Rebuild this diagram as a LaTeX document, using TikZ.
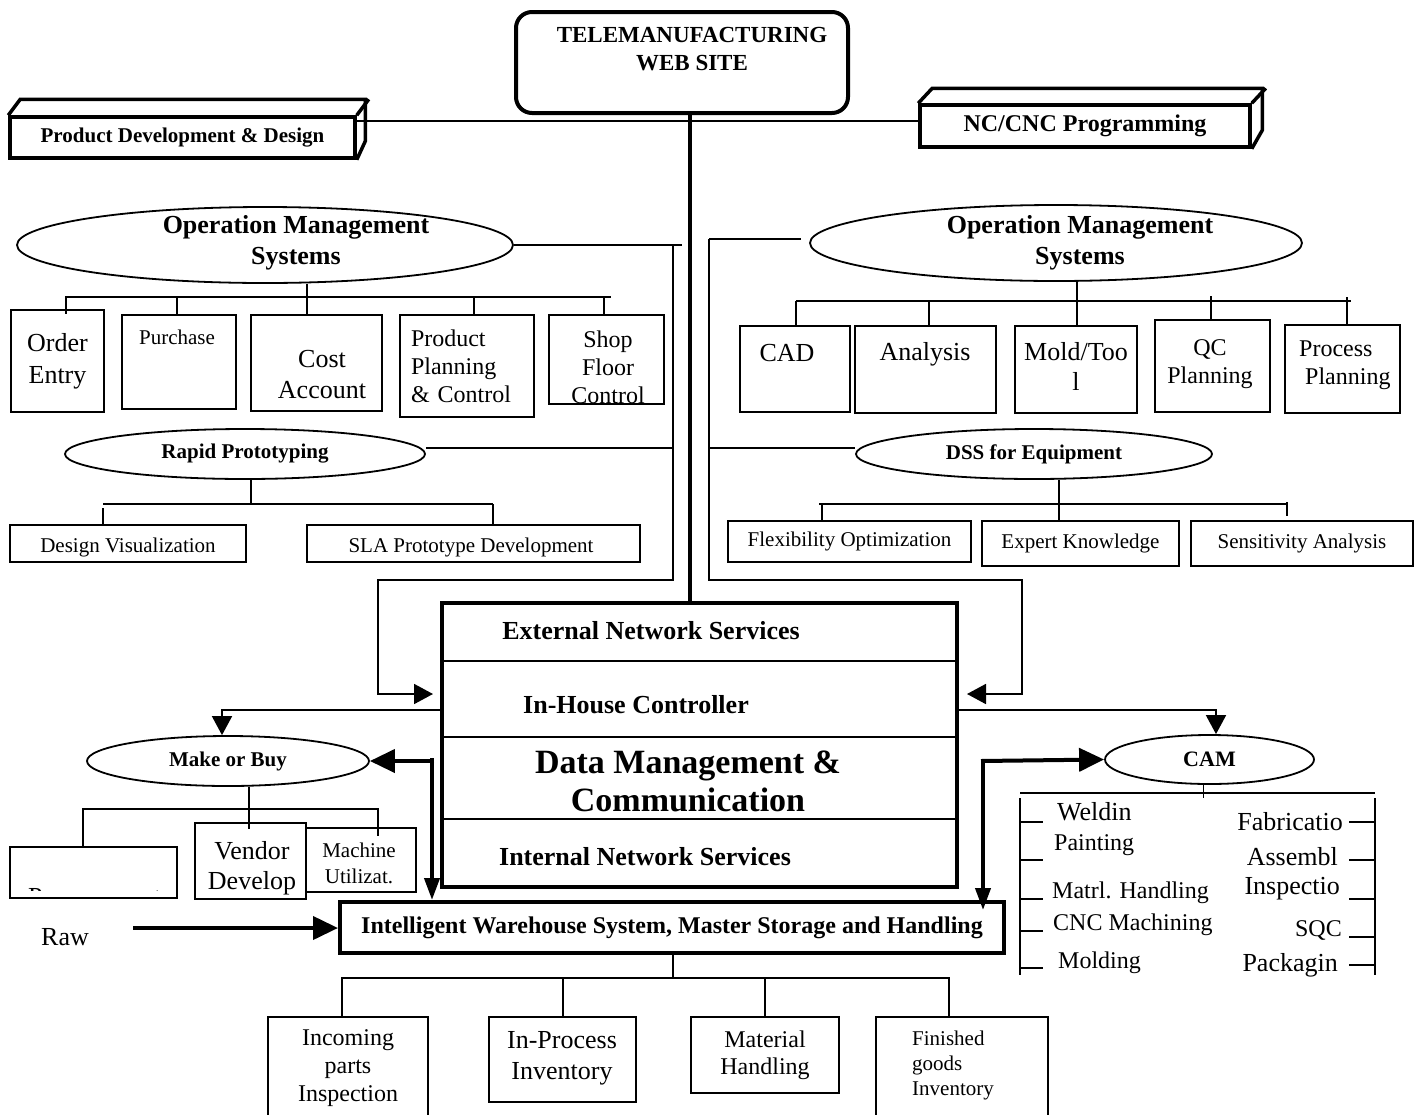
\documentclass[tikz,border=0pt]{standalone}
\usepackage{fontspec}
\setmainfont{Liberation Serif}
\usetikzlibrary{shapes.geometric,arrows.meta}
\newcommand\fsz[2]{\fontsize{#1}{#2}\selectfont}
\tikzset{
  ln/.style={line width=1.8pt},
  bx/.style={draw, line width=1.8pt, inner sep=0pt, rectangle},
  tbx/.style={draw, line width=4pt, inner sep=0pt, rectangle},
  el/.style={draw, ellipse, line width=1.8pt, inner sep=0pt},
  tx/.style={inner sep=0pt, align=center},
  arr/.style={-{Triangle[length=19pt,width=20pt]}},
  tarrh/.style={line width=4pt,-{Triangle[length=25pt,width=23pt]}},
  tarrv/.style={line width=4pt,-{Triangle[length=22pt,width=15pt]}},
  threed/.style={line width=3.5pt, line join=miter},
}
\begin{document}
\begin{tikzpicture}[x=1pt,y=-1pt]
\useasboundingbox (0,0) rectangle (1419,1114);
\fill[white] (0,0) rectangle (1419,1114);

% ---------- top ----------
\node[draw, line width=4pt, rounded corners=16pt, minimum width=332, minimum height=101, inner sep=0pt] (tele) at (682,62.5) {};
\node[tx, font=\fsz{23}{28}\bfseries] (telet) at (692,49) {TELEMANUFACTURING\\WEB SITE};

\node[draw, threed, minimum width=345, minimum height=41, inner sep=0pt, font=\fsz{21}{25}\bfseries] (pdd) at (182.5,137.5) {Product Development \& Design};
\draw[threed] (pdd.north west) -- ++(12,-16) -- ++(345,0) -- ++(0,42) -- (pdd.south east);
\draw[threed] (pdd.north east) -- ++(12,-16);

\node[draw, threed, minimum width=330, minimum height=42, inner sep=0pt, font=\fsz{24}{28}\bfseries] (nc) at (1085,126) {NC/CNC Programming};
\draw[threed] (nc.north west) -- ++(14,-15) -- ++(330,0) -- ++(0,42) -- (nc.south east);
\draw[threed] (nc.north east) -- ++(14,-15);

\draw[ln] ([yshift=-6pt]pdd.north east) -- ([yshift=-6pt]pdd.north east -| nc.west);

% ---------- central box ----------
\node[tbx, minimum width=515, minimum height=284] (dm) at (699.5,745) {};
\draw[line width=2pt] (dm.west |- 0,661) -- (dm.east |- 0,661);
\draw[line width=2pt] (dm.west |- 0,737) -- (dm.east |- 0,737);
\draw[line width=2pt] (dm.west |- 0,819) -- (dm.east |- 0,819);
\node[tx, font=\fsz{26}{30}\bfseries] (ens) at (651,631) {External Network Services};
\node[tx, font=\fsz{26}{30}\bfseries] (ihc) at (636,705) {In-House Controller};
\node[tx, font=\fsz{34}{38}\bfseries] (dmc) at (688,781) {Data Management \&\\Communication};
\node[tx, font=\fsz{26}{30}\bfseries] (ins) at (645,857) {Internal Network Services};

\draw[line width=4pt] ([xshift=8pt]tele.south) -- ([xshift=8pt]tele.south |- dm.north);

% ---------- left OMS ----------
\node[el, minimum width=496, minimum height=76] (omsL) at (265,245) {};
\node[tx, font=\fsz{26}{31}\bfseries] (omsLt) at (296,242.5) {Operation Management\\Systems};

\coordinate (omsLend) at (682,245);
\draw[ln] (omsL.east) -- (omsLend);
\coordinate (vL) at (673,245);
\coordinate (vL2) at (673,580);
\coordinate (vL3) at (378,580);
\coordinate (vL4) at (378,694);
\coordinate (dmLin) at (433,694);
\draw[ln, arr] (vL) -- (vL2) -- (vL3) -- (vL4) -- (dmLin);

\coordinate (bL1) at (65,297);
\coordinate (bL2) at (611,297);
\draw[ln] (bL1) -- (bL2);
\draw[ln] ([xshift=42pt]omsL.south) -- ([xshift=42pt]omsL.south |- 0,315);

\node[bx, minimum width=93, minimum height=102, font=\fsz{26}{32}, align=center] (oe) at (57.5,361) {Order\\Entry};
\node[bx, minimum width=114, minimum height=94] (pu) at (179,362) {};
\node[tx, font=\fsz{21}{25}] (put) at (177,337) {Purchase};
\node[bx, minimum width=131, minimum height=96] (co) at (316.5,363) {};
\node[tx, font=\fsz{26}{31}] (cot) at (322,375) {Cost\\Account};
\node[bx, minimum width=134, minimum height=102, text width=112pt, align=left, font=\fsz{24}{28}] (pp) at (467,366) {Product\\Planning\\\& Control};
\node[bx, minimum width=115, minimum height=89] (sf) at (606.5,359.5) {};
\node[tx, font=\fsz{24}{28}] (sft) at (608,367) {Shop\\Floor\\Control};

\coordinate (dL1) at (66,297);
\coordinate (dL2) at (177,297);
\coordinate (dL3) at (474,297);
\coordinate (dL4) at (604,297);
\draw[ln] (dL1) -- (dL1 |- pu.north);
\draw[ln] (dL2) -- (dL2 |- pu.north);
\draw[ln] (dL3) -- (dL3 |- pp.north);
\draw[ln] (dL4) -- (dL4 |- pp.north);

% rapid prototyping
\node[el, minimum width=360, minimum height=50, font=\fsz{21}{25}\bfseries] (rp) at (245,454) {Rapid Prototyping};
\coordinate (rpend) at (672,448);
\draw[ln] ([yshift=6pt]rp.east) -- (rpend);
\draw[ln] ([xshift=6pt]rp.south) -- ([xshift=6pt]rp.south |- 0,504);
\coordinate (bR1) at (103,504);
\coordinate (bR2) at (493,504);
\draw[ln] (bR1) -- (bR2);
\node[bx, minimum width=236, minimum height=37] (dv) at (128,543.5) {};
\node[tx, font=\fsz{21}{25}] (dvt) at (128,547) {Design Visualization};
\node[bx, minimum width=333, minimum height=37] (sla) at (473.5,543.5) {};
\node[tx, font=\fsz{21}{25}] (slat) at (471,547) {SLA Prototype Development};
\draw[ln] ([yshift=-4pt]bR1) -- (bR1 |- dv.north);
\draw[ln] (bR2) -- (bR2 |- sla.north);

% ---------- right OMS ----------
\node[el, minimum width=492, minimum height=76] (omsR) at (1056,243) {};
\node[tx, font=\fsz{26}{31}\bfseries] (omsRt) at (1080,242.5) {Operation Management\\Systems};

\coordinate (vR) at (709,239);
\coordinate (omsRin) at (801,239);
\draw[ln] (vR) -- (omsRin);
\coordinate (vR2) at (709,580);
\coordinate (vR3) at (1022,580);
\coordinate (vR4) at (1022,694);
\coordinate (dmRin) at (967,694);
\draw[ln, arr] (vR) -- (vR2) -- (vR3) -- (vR4) -- (dmRin);

\draw[ln] ([xshift=21pt]omsR.south) -- ([xshift=21pt]omsR.south |- 0,326);
\coordinate (bS1) at (796,301);
\coordinate (bS2) at (1351,301);
\draw[ln] (bS1) -- (bS2);

\node[bx, minimum width=110, minimum height=86] (cad) at (795,369) {};
\node[tx, font=\fsz{26}{30}] (cadt) at (787,353) {CAD};
\node[bx, minimum width=141, minimum height=87] (an) at (925.5,369.5) {};
\node[tx, font=\fsz{26}{30}] (ant) at (925,354) {Analysis};
\node[bx, minimum width=122, minimum height=87] (mt) at (1076,369.5) {};
\node[tx, font=\fsz{26}{30}] (mtt) at (1076,366) {Mold/Too\\l};
\node[bx, minimum width=115, minimum height=92] (qc) at (1212.5,366) {};
\node[tx, font=\fsz{24}{28}] (qct) at (1210,364) {QC\\Planning};
\node[bx, minimum width=115, minimum height=88] (pr) at (1342.5,369) {};
\node[tx, anchor=west, align=left, font=\fsz{24}{28}] (prt) at (1299,365) {Process\\\hspace*{6pt}Planning};

\coordinate (dS1) at (796,301);
\coordinate (dS2) at (929,301);
\coordinate (dS3) at (1211,296);
\coordinate (dS4) at (1347,297);
\draw[ln] (dS1) -- (dS1 |- cad.north);
\draw[ln] (dS2) -- (dS2 |- an.north);
\draw[ln] (dS3) -- (dS3 |- qc.north);
\draw[ln] (dS4) -- (dS4 |- pr.north);

% DSS
\node[el, minimum width=356, minimum height=50, font=\fsz{21}{25}\bfseries] (dss) at (1034,454) {DSS for Equipment};
\coordinate (vRd) at (709,448);
\draw[ln] (vRd) -- ([yshift=6pt]dss.west);
\node[bx, minimum width=243, minimum height=41, font=\fsz{21}{25}] (fo) at (849.5,541.5) {Flexibility Optimization};
\node[bx, minimum width=197, minimum height=45, font=\fsz{21}{25}] (ek) at (1080.5,543.5) {Expert Knowledge};
\node[bx, minimum width=222, minimum height=45, font=\fsz{21}{25}] (sa) at (1302,543.5) {Sensitivity Analysis};
\draw[ln] ([xshift=25pt]dss.south) -- ([xshift=25pt]dss.south |- ek.north);
\coordinate (bD1) at (819,504);
\coordinate (bD2) at (1287,504);
\draw[ln] (bD1) -- (bD2);
\coordinate (dD1) at (822,504);
\draw[ln] (dD1) -- (dD1 |- fo.north);
\coordinate (dD2) at (1287,502);
\coordinate (dD2e) at (1287,516);
\draw[ln] (dD2) -- (dD2e);

% ---------- make or buy / CAM ----------
\node[el, minimum width=282, minimum height=50, font=\fsz{21}{25}\bfseries] (mob) at (228,761) {Make or Buy};
\node[el, minimum width=209, minimum height=49, font=\fsz{22}{26}\bfseries] (cam) at (1209.5,759.5) {CAM};

\coordinate (mL) at (222,710);
\coordinate (mR) at (1216,710);
\draw[ln, arr] (dm.west |- mL) -- (mL) -- (mL |- mob.north);
\draw[ln, arr] (dm.east |- mR) -- (mR) -- (mR |- cam.north);

% warehouse
\node[tbx, minimum width=664, minimum height=51, font=\fsz{24}{28}\bfseries] (wh) at (672,927.5) {Intelligent Warehouse System, Master Storage and Handling};

\coordinate (tL) at (432,761);
\coordinate (tLv) at (432,758);
\draw[tarrh] ([xshift=2pt]tL) -- (mob.east);
\draw[tarrv] (tLv) -- (tLv |- wh.north);
\coordinate (tR) at (983,761);
\coordinate (tRv) at (983,759);
\coordinate (whR) at (983,910);
\draw[tarrh] ([xshift=-2pt]tR) -- (cam.west);
\draw[tarrv] (tRv) -- (whR);

% make or buy children
\draw[ln] ([xshift=21pt]mob.south) -- ++(0,42);
\node[bx, minimum width=167, minimum height=51] (proc) at (93.5,872.5) {};
\begin{scope}
\clip (12,849) rectangle (175,890.5);
\node[tx, anchor=base west, font=\fsz{26}{30}] (proct) at (28,905) {Procurement};
\end{scope}
\node[bx, minimum width=111, minimum height=76] (vd) at (250.5,861) {};
\node[tx, font=\fsz{26}{30}] (vdt) at (252,868) {Vendor\\Develop};
\node[bx, minimum width=110, minimum height=64] (mu) at (361,860) {};
\node[tx, font=\fsz{21}{26}] (mut) at (359,863) {Machine\\Utilizat.};
\coordinate (bM1) at (83,809);
\coordinate (bM2) at (378,809);
\coordinate (bM2e) at (378,836);
\draw[ln] (bM1 |- proc.north) -- (bM1) -- (bM2) -- (bM2e);

% raw
\node[tx, font=\fsz{26}{30}] (raw) at (65,937) {Raw};
\coordinate (rawst) at (133,928);
\draw[tarrh] (rawst) -- (rawst -| wh.west);

% CAM children
\coordinate (cb1) at (1020,793);
\coordinate (cb2) at (1375,793);
\draw[ln] (cb1) -- (cb2);
\draw[ln] ([xshift=-6pt]cam.south) -- ([xshift=-6pt]cam.south |- 0,798);
\draw[ln] (1020,798) -- (1020,975);
\draw[ln] (1375,798) -- (1375,975);
\foreach \yy in {822,860,899,931,968} \draw[ln] (1020,\yy) -- (1043,\yy);
\foreach \yy in {822,860,899,937,965} \draw[ln] (1349,\yy) -- (1375,\yy);
\node[tx, anchor=west, font=\fsz{26}{30}] (cw) at (1057,812) {Weldin};
\node[tx, anchor=west, font=\fsz{24}{28}] (cpa) at (1054,845) {Painting};
\node[tx, anchor=west, font=\fsz{24}{28}] (cmh) at (1052,893) {Matrl. Handling};
\node[tx, anchor=west, font=\fsz{24}{28}] (ccnc) at (1053,925) {CNC Machining};
\node[tx, anchor=west, font=\fsz{24}{28}] (cmo) at (1058,963) {Molding};
\node[tx, anchor=east, font=\fsz{26}{30}] (cfa) at (1343,822) {Fabricatio};
\node[tx, anchor=east, font=\fsz{26}{30}] (cas) at (1338,857) {Assembl};
\node[tx, anchor=east, font=\fsz{26}{30}] (cin) at (1340,889) {Inspectio};
\node[tx, anchor=east, font=\fsz{24}{28}] (csq) at (1342,930) {SQC};
\node[tx, anchor=east, font=\fsz{26}{30}] (cpk) at (1338,965) {Packagin};

% ---------- bottom ----------
\draw[ln] ([xshift=1pt]wh.south) -- ([xshift=1pt]wh.south |- 0,978);
\node[bx, minimum width=160, minimum height=116] (ip) at (348,1075) {};
\node[tx, font=\fsz{24}{28}] (ipt) at (348,1068) {Incoming\\parts\\Inspection};
\node[bx, minimum width=147, minimum height=85] (ipi) at (562.5,1059.5) {};
\node[tx, font=\fsz{26}{31}] (ipit) at (562,1058) {In-Process\\Inventory};
\node[bx, minimum width=148, minimum height=76, font=\fsz{24}{27}, align=center] (mh) at (765,1055) {Material\\Handling};
\node[bx, minimum width=172, minimum height=116] (fg) at (962,1075) {};
\node[tx, anchor=west, align=left, font=\fsz{21}{25}] (fgt) at (912,1065) {Finished\\goods\\Inventory};
\coordinate (bB1) at (342,978);
\coordinate (bB2) at (563,978);
\coordinate (bB3) at (765,978);
\coordinate (bB4) at (949,978);
\draw[ln] (bB1 |- ip.north) -- (bB1) -- (bB4) -- (bB4 |- fg.north);
\draw[ln] (bB2) -- (bB2 |- ipi.north);
\draw[ln] (bB3) -- (mh.north);
\end{tikzpicture}
\end{document}
